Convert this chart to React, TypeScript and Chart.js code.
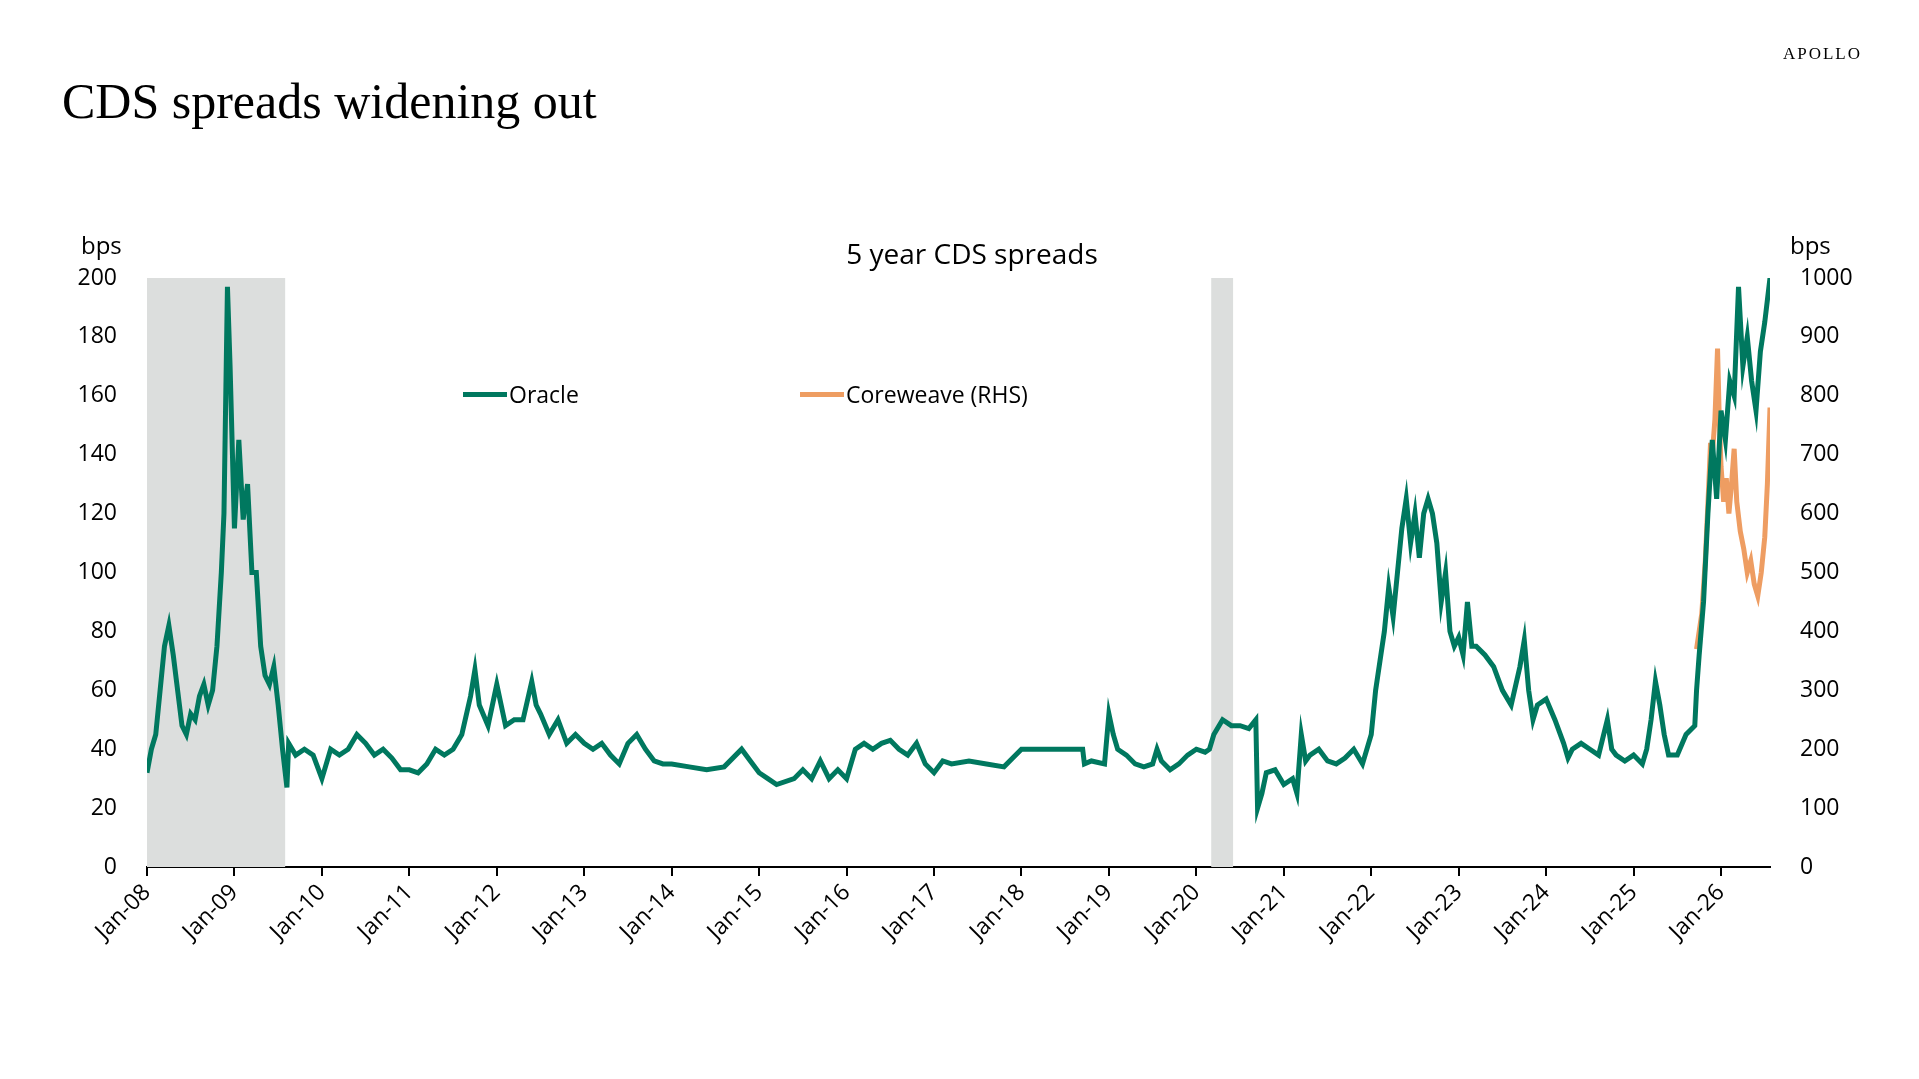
import React, { useEffect, useRef } from "react";
import { Chart, registerables } from "chart.js";
Chart.register(...registerables);

const oracleDates = [2008.0,2008.05,2008.1,2008.15,2008.2,2008.25,2008.3,2008.35,2008.4,2008.45,2008.5,2008.55,2008.6,2008.65,2008.7,2008.75,2008.8,2008.85,2008.88,2008.92,2008.95,2009.0,2009.05,2009.1,2009.15,2009.2,2009.25,2009.3,2009.35,2009.4,2009.45,2009.5,2009.55,2009.6,2009.62,2009.7,2009.8,2009.9,2010.0,2010.1,2010.2,2010.3,2010.4,2010.5,2010.6,2010.7,2010.8,2010.9,2011.0,2011.1,2011.2,2011.3,2011.4,2011.5,2011.6,2011.7,2011.75,2011.8,2011.9,2012.0,2012.05,2012.1,2012.2,2012.3,2012.4,2012.45,2012.5,2012.6,2012.7,2012.8,2012.9,2013.0,2013.1,2013.2,2013.3,2013.4,2013.5,2013.6,2013.7,2013.8,2013.9,2014.0,2014.2,2014.4,2014.6,2014.8,2014.9,2015.0,2015.1,2015.2,2015.4,2015.5,2015.6,2015.7,2015.8,2015.9,2016.0,2016.1,2016.2,2016.3,2016.4,2016.5,2016.6,2016.7,2016.8,2016.9,2017.0,2017.1,2017.2,2017.4,2017.6,2017.8,2017.9,2018.0,2018.2,2018.5,2018.7,2018.72,2018.8,2018.95,2019.0,2019.05,2019.1,2019.2,2019.3,2019.4,2019.5,2019.55,2019.6,2019.7,2019.8,2019.9,2020.0,2020.1,2020.15,2020.2,2020.3,2020.4,2020.5,2020.6,2020.68,2020.7,2020.75,2020.8,2020.9,2021.0,2021.1,2021.15,2021.2,2021.25,2021.3,2021.4,2021.5,2021.6,2021.7,2021.8,2021.9,2022.0,2022.05,2022.1,2022.15,2022.2,2022.25,2022.3,2022.35,2022.4,2022.45,2022.5,2022.55,2022.6,2022.65,2022.7,2022.75,2022.8,2022.85,2022.9,2022.95,2023.0,2023.05,2023.1,2023.15,2023.2,2023.3,2023.4,2023.5,2023.6,2023.7,2023.75,2023.8,2023.85,2023.9,2024.0,2024.1,2024.2,2024.25,2024.3,2024.4,2024.5,2024.6,2024.7,2024.75,2024.8,2024.9,2025.0,2025.1,2025.15,2025.2,2025.25,2025.3,2025.35,2025.4,2025.5,2025.6,2025.7,2025.72,2025.75,2025.8,2025.85,2025.9,2025.95,2026.0,2026.05,2026.1,2026.15,2026.2,2026.25,2026.3,2026.35,2026.4,2026.45,2026.5,2026.56];
const oracleValues = [32,40,45,60,75,82,72,60,48,45,52,50,58,62,55,60,75,100,120,197,170,115,145,118,130,100,100,75,65,62,68,55,40,27,42,38,40,38,30,40,38,40,45,42,38,40,37,33,33,32,35,40,38,40,45,58,67,55,48,62,55,48,50,50,63,55,52,45,50,42,45,42,40,42,38,35,42,45,40,36,35,35,34,33,34,40,36,32,30,28,30,33,30,36,30,33,30,40,42,40,42,43,40,38,42,35,32,36,35,36,35,34,37,40,40,40,40,35,36,35,52,45,40,38,35,34,35,40,36,33,35,38,40,39,40,45,50,48,48,47,50,20,25,32,33,28,30,25,45,36,38,40,36,35,37,40,35,45,60,70,80,95,85,100,115,125,110,120,105,120,125,120,110,90,100,80,75,78,72,90,75,75,72,68,60,55,68,77,60,50,55,57,50,42,37,40,42,40,38,50,40,38,36,38,35,40,50,63,55,45,38,38,45,48,60,72,90,120,145,125,155,145,165,160,197,170,180,165,155,175,185,200];

const coreDates = [2025.72,2025.75,2025.78,2025.82,2025.86,2025.88,2025.9,2025.93,2025.96,2025.98,2026.0,2026.03,2026.06,2026.09,2026.12,2026.15,2026.18,2026.22,2026.26,2026.3,2026.34,2026.38,2026.42,2026.46,2026.5,2026.53,2026.56];
const coreValues = [370,400,430,520,650,720,700,760,880,760,680,620,660,600,650,710,620,570,540,500,520,480,460,500,560,650,780];

const recessions = [[2008.0, 2009.58], [2020.17, 2020.42]];
const yearTicks = Array.from({ length: 19 }, (_, i) => 2008 + i);

const GREEN = "#00785f";
const ORANGE = "#ee9d62";
const FONT = "'Open Sans', 'Noto Sans', sans-serif";

export default function App() {
  const ref = useRef<HTMLCanvasElement>(null);
  useEffect(() => {
    document.body.style.margin = "0";
    const shade = {
      id: "shade",
      beforeDatasetsDraw(c: any) {
        const { ctx, chartArea, scales } = c;
        ctx.save();
        ctx.fillStyle = "#dcdedd";
        for (const [a, b] of recessions) {
          const x1 = scales.x.getPixelForValue(a);
          const x2 = scales.x.getPixelForValue(b);
          ctx.fillRect(x1, chartArea.top, x2 - x1, chartArea.bottom - chartArea.top);
        }
        ctx.restore();
      },
    };
    const chart = new Chart(ref.current!, {
      type: "line",
      data: {
        datasets: [
          { label: "Oracle", data: oracleDates.map((d, i) => ({ x: d, y: oracleValues[i] })), borderColor: GREEN, borderWidth: 5, pointRadius: 0, yAxisID: "y", tension: 0 },
          { label: "Coreweave (RHS)", data: coreDates.map((d, i) => ({ x: d, y: coreValues[i] })), borderColor: ORANGE, borderWidth: 5, pointRadius: 0, yAxisID: "y2", tension: 0 },
        ],
      },
      options: {
        animation: false,
        responsive: false,
        layout: { padding: { top: 278, left: 0, right: 0, bottom: 0 } },
        plugins: { legend: { display: false }, tooltip: { enabled: false } },
        scales: {
          x: {
            type: "linear", min: 2008, max: 2026.56,
            afterBuildTicks: (s: any) => { s.ticks = yearTicks.map((v) => ({ value: v })); },
            afterFit: (s: any) => { s.height = 212; },
            grid: { drawOnChartArea: false, color: "#000", tickLength: 9, lineWidth: 2 },
            border: { color: "#000", width: 2 },
            ticks: { color: "#000", font: { family: FONT, size: 23 }, maxRotation: 45, minRotation: 45, autoSkip: false,
              callback: (v: any) => "Jan-" + String(Math.round(v) % 100).padStart(2, "0") },
          },
          y: {
            position: "left", min: 0, max: 200,
            afterFit: (s: any) => { s.width = 147; },
            grid: { display: false }, border: { display: false },
            ticks: { stepSize: 20, color: "#000", font: { family: FONT, size: 23 }, padding: 22 },
          },
          y2: {
            position: "right", min: 0, max: 1000,
            afterFit: (s: any) => { s.width = 149; },
            grid: { display: false }, border: { display: false },
            ticks: { stepSize: 100, color: "#000", font: { family: FONT, size: 23 }, padding: 22,
              callback: (v: any) => String(v) },
          },
        },
      } as any,
      plugins: [shade],
    });
    return () => chart.destroy();
  }, []);

  const txt = (style: React.CSSProperties, s: string) => (
    <div style={{ position: "absolute", fontFamily: FONT, fontSize: 24, color: "#000", whiteSpace: "nowrap", ...style }}>{s}</div>
  );
  return (
    <div style={{ position: "relative", width: 1919, height: 1079, background: "#fff", overflow: "hidden" }}>
      <canvas ref={ref} width={1919} height={1079} style={{ position: "absolute", left: 0, top: 0 }} />
      <div style={{ position: "absolute", left: 62, top: 72, fontFamily: "'Liberation Serif', serif", fontSize: 50, color: "#000" }}>CDS spreads widening out</div>
      <div style={{ position: "absolute", right: 57, top: 44, fontFamily: "'Liberation Serif', serif", fontSize: 17, letterSpacing: 2, color: "#000" }}>APOLLO</div>
      {txt({ left: 81, top: 228 }, "bps")}
      {txt({ left: 1790, top: 228 }, "bps")}
      {txt({ left: 972, top: 234, transform: "translateX(-50%)", fontSize: 28 }, "5 year CDS spreads")}
      <div style={{ position: "absolute", left: 463, top: 378, display: "flex", alignItems: "center", fontFamily: FONT, fontSize: 23 }}>
        <span style={{ display: "inline-block", width: 44, height: 5, background: GREEN, marginRight: 2 }} />Oracle
      </div>
      <div style={{ position: "absolute", left: 800, top: 378, display: "flex", alignItems: "center", fontFamily: FONT, fontSize: 23 }}>
        <span style={{ display: "inline-block", width: 44, height: 5, background: ORANGE, marginRight: 2 }} />Coreweave (RHS)
      </div>
    </div>
  );
}
